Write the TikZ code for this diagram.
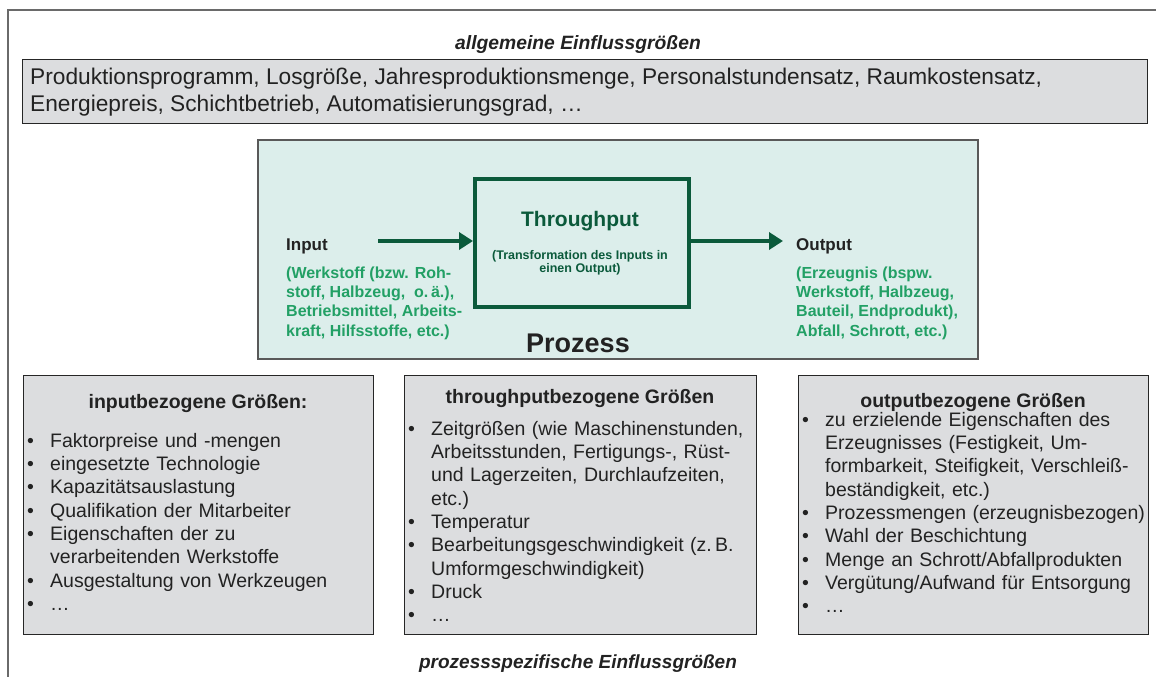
\documentclass[tikz,border=0pt]{standalone}
\usepackage{fontspec}
\setmainfont{Liberation Sans}
\usepackage{tikz}
\usetikzlibrary{arrows.meta,positioning}

\definecolor{rahmengrau}{HTML}{6A6A6A}
\definecolor{kastengrau}{HTML}{DCDDDF}
\definecolor{prozessfill}{HTML}{DCEEEB}
\definecolor{dunkelgruen}{HTML}{0B5A3B}
\definecolor{hellgruen}{HTML}{22A065}
\definecolor{textgrau}{HTML}{222222}

\newcommand{\schrift}[2]{\fontsize{#1}{#2}\selectfont}
\newenvironment{punkte}{\begin{list}{\textbullet\hfill}{%
  \setlength{\leftmargin}{23pt}\setlength{\labelwidth}{23pt}%
  \setlength{\labelsep}{0pt}\setlength{\itemsep}{0pt}%
  \setlength{\parsep}{0pt}\setlength{\topsep}{0pt}%
  \setlength{\partopsep}{0pt}\setlength{\itemindent}{0pt}}}{\end{list}}

\begin{document}
\begin{tikzpicture}[x=1pt, y=1pt,
    every node/.append style={text=textgrau},
    kasten/.style={draw=black!85, line width=1.2pt, fill=kastengrau, inner sep=0pt, anchor=north west},
    titel/.style={font=\bfseries\schrift{19.5}{23}, anchor=base, inner sep=0pt},
    liste/.style={text width=#1, align=left, anchor=north west, inner sep=0pt, font=\schrift{19.5}{23.3}},
    gruentext/.style={text=hellgruen, font=\bfseries\schrift{16}{19.3}, align=left, anchor=north west, inner sep=0pt},
    ioname/.style={font=\bfseries\schrift{17}{20}, anchor=base west, inner sep=0pt},
    pfeil/.style={dunkelgruen, line width=4.5pt, -{Triangle[length=14pt,width=17pt]}}]
    \useasboundingbox (0,0) rectangle (1156,-677);

    % Rahmen
    \draw[rahmengrau, line width=2pt] (8,-677) -- (8,-10) -- (1156,-10);

    % allgemeine Einflussgroessen
    \node[font=\bfseries\itshape\schrift{19.3}{23}, anchor=base, inner sep=0pt] (allgtitel) at (578,-49) {allgemeine Einflussgrößen};
    \node[kasten, minimum width=1125pt, minimum height=64pt] (allgbox) at (22,-59) {};
    \node[anchor=north west, inner sep=0pt, align=left, font=\schrift{22.7}{27}] (allgtext) at (30,-65.1)
        {\strut Produktionsprogramm, Losgröße, Jahresproduktionsmenge, Personalstundensatz, Raumkostensatz,\\
         Energiepreis, Schichtbetrieb, Automatisierungsgrad, …};

    % Prozess
    \node[draw=gray!70!black, line width=1.5pt, fill=prozessfill, minimum width=720pt, minimum height=219pt,
          anchor=north west, inner sep=0pt] (prozess) at (257,-139) {};
    \node[draw=dunkelgruen, line width=3.5pt, minimum width=214pt, minimum height=128pt,
          anchor=north west, inner sep=0pt] (tpbox) at (473,-177) {};
    \node[text=dunkelgruen, font=\bfseries\schrift{21}{25}, anchor=base, inner sep=0pt] (tptitel) at (580,-226.5) {Throughput};
    \node[text=dunkelgruen, font=\bfseries\schrift{12.5}{13}, align=center, anchor=north, inner sep=0pt] (tptext) at (580,-250.4)
        {\strut(Transformation des Inputs in\\einen Output)};

    \node[ioname] (input) at (286,-250) {Input};
    \node[gruentext] (inputtext) at (286,-264.5)
        {\strut(Werkstoff (bzw. Roh-\\stoff, Halbzeug,\ \ o.\,ä.),\\Betriebsmittel, Arbeits-\\kraft, Hilfsstoffe, etc.)};
    \node[ioname] (output) at (796,-250) {Output};
    \node[gruentext] (outputtext) at (796,-264.5)
        {\strut(Erzeugnis (bspw.\\Werkstoff, Halbzeug,\\Bauteil, Endprodukt),\\Abfall, Schrott, etc.)};

    \coordinate (inpfeil) at (378,-241);
    \coordinate (outpfeil) at (783,-241);
    \draw[pfeil] (inpfeil) -- (inpfeil -| tpbox.west);
    \draw[pfeil] (tpbox.east |- outpfeil) -- (outpfeil);

    \node[font=\bfseries\schrift{27}{30}, anchor=base, inner sep=0pt] (prozesstitel) at (578,-352) {Prozess};

    % prozessspezifische Einflussgroessen
    \node[kasten, minimum width=350pt, minimum height=259pt] (inbox) at (23,-375) {};
    \node[kasten, minimum width=352pt, minimum height=259pt] (tpkasten) at (404,-375) {};
    \node[kasten, minimum width=350pt, minimum height=259pt] (outbox) at (798,-375) {};

    \node[titel] (intitel) at (198,-408) {inputbezogene Größen:};
    \node[titel] (tpkastentitel) at (580,-403) {throughputbezogene Größen};
    \node[titel] (outtitel) at (973,-407) {outputbezogene Größen};

    \node[liste=360pt] (inliste) at (27,-423.7) {\begin{punkte}
        \item\strut Faktorpreise und -mengen
        \item eingesetzte Technologie
        \item Kapazitätsauslastung
        \item Qualifikation der Mitarbeiter
        \item Eigenschaften der zu\\verarbeitenden Werkstoffe
        \item Ausgestaltung von Werkzeugen
        \item …
    \end{punkte}};
    \node[liste=360pt] (tpliste) at (408,-411.7) {\begin{punkte}
        \item\strut Zeitgrößen (wie Maschinenstunden,\\Arbeitsstunden, Fertigungs-, Rüst-\\und Lagerzeiten, Durchlaufzeiten,\\etc.)
        \item Temperatur
        \item Bearbeitungsgeschwindigkeit (z.\,B.\\Umformgeschwindigkeit)
        \item Druck
        \item …
    \end{punkte}};
    \node[liste=360pt] (outliste) at (802,-402.7) {\begin{punkte}
        \item\strut zu erzielende Eigenschaften des\\Erzeugnisses (Festigkeit, Um-\\formbarkeit, Steifigkeit, Verschleiß-\\beständigkeit, etc.)
        \item Prozessmengen (erzeugnisbezogen)
        \item Wahl der Beschichtung
        \item Menge an Schrott/Abfallprodukten
        \item Vergütung/Aufwand für Entsorgung
        \item …
    \end{punkte}};

    \node[font=\bfseries\itshape\schrift{19}{23}, anchor=base, inner sep=0pt] (spezitel) at (578,-668) {prozessspezifische Einflussgrößen};
\end{tikzpicture}
\end{document}
